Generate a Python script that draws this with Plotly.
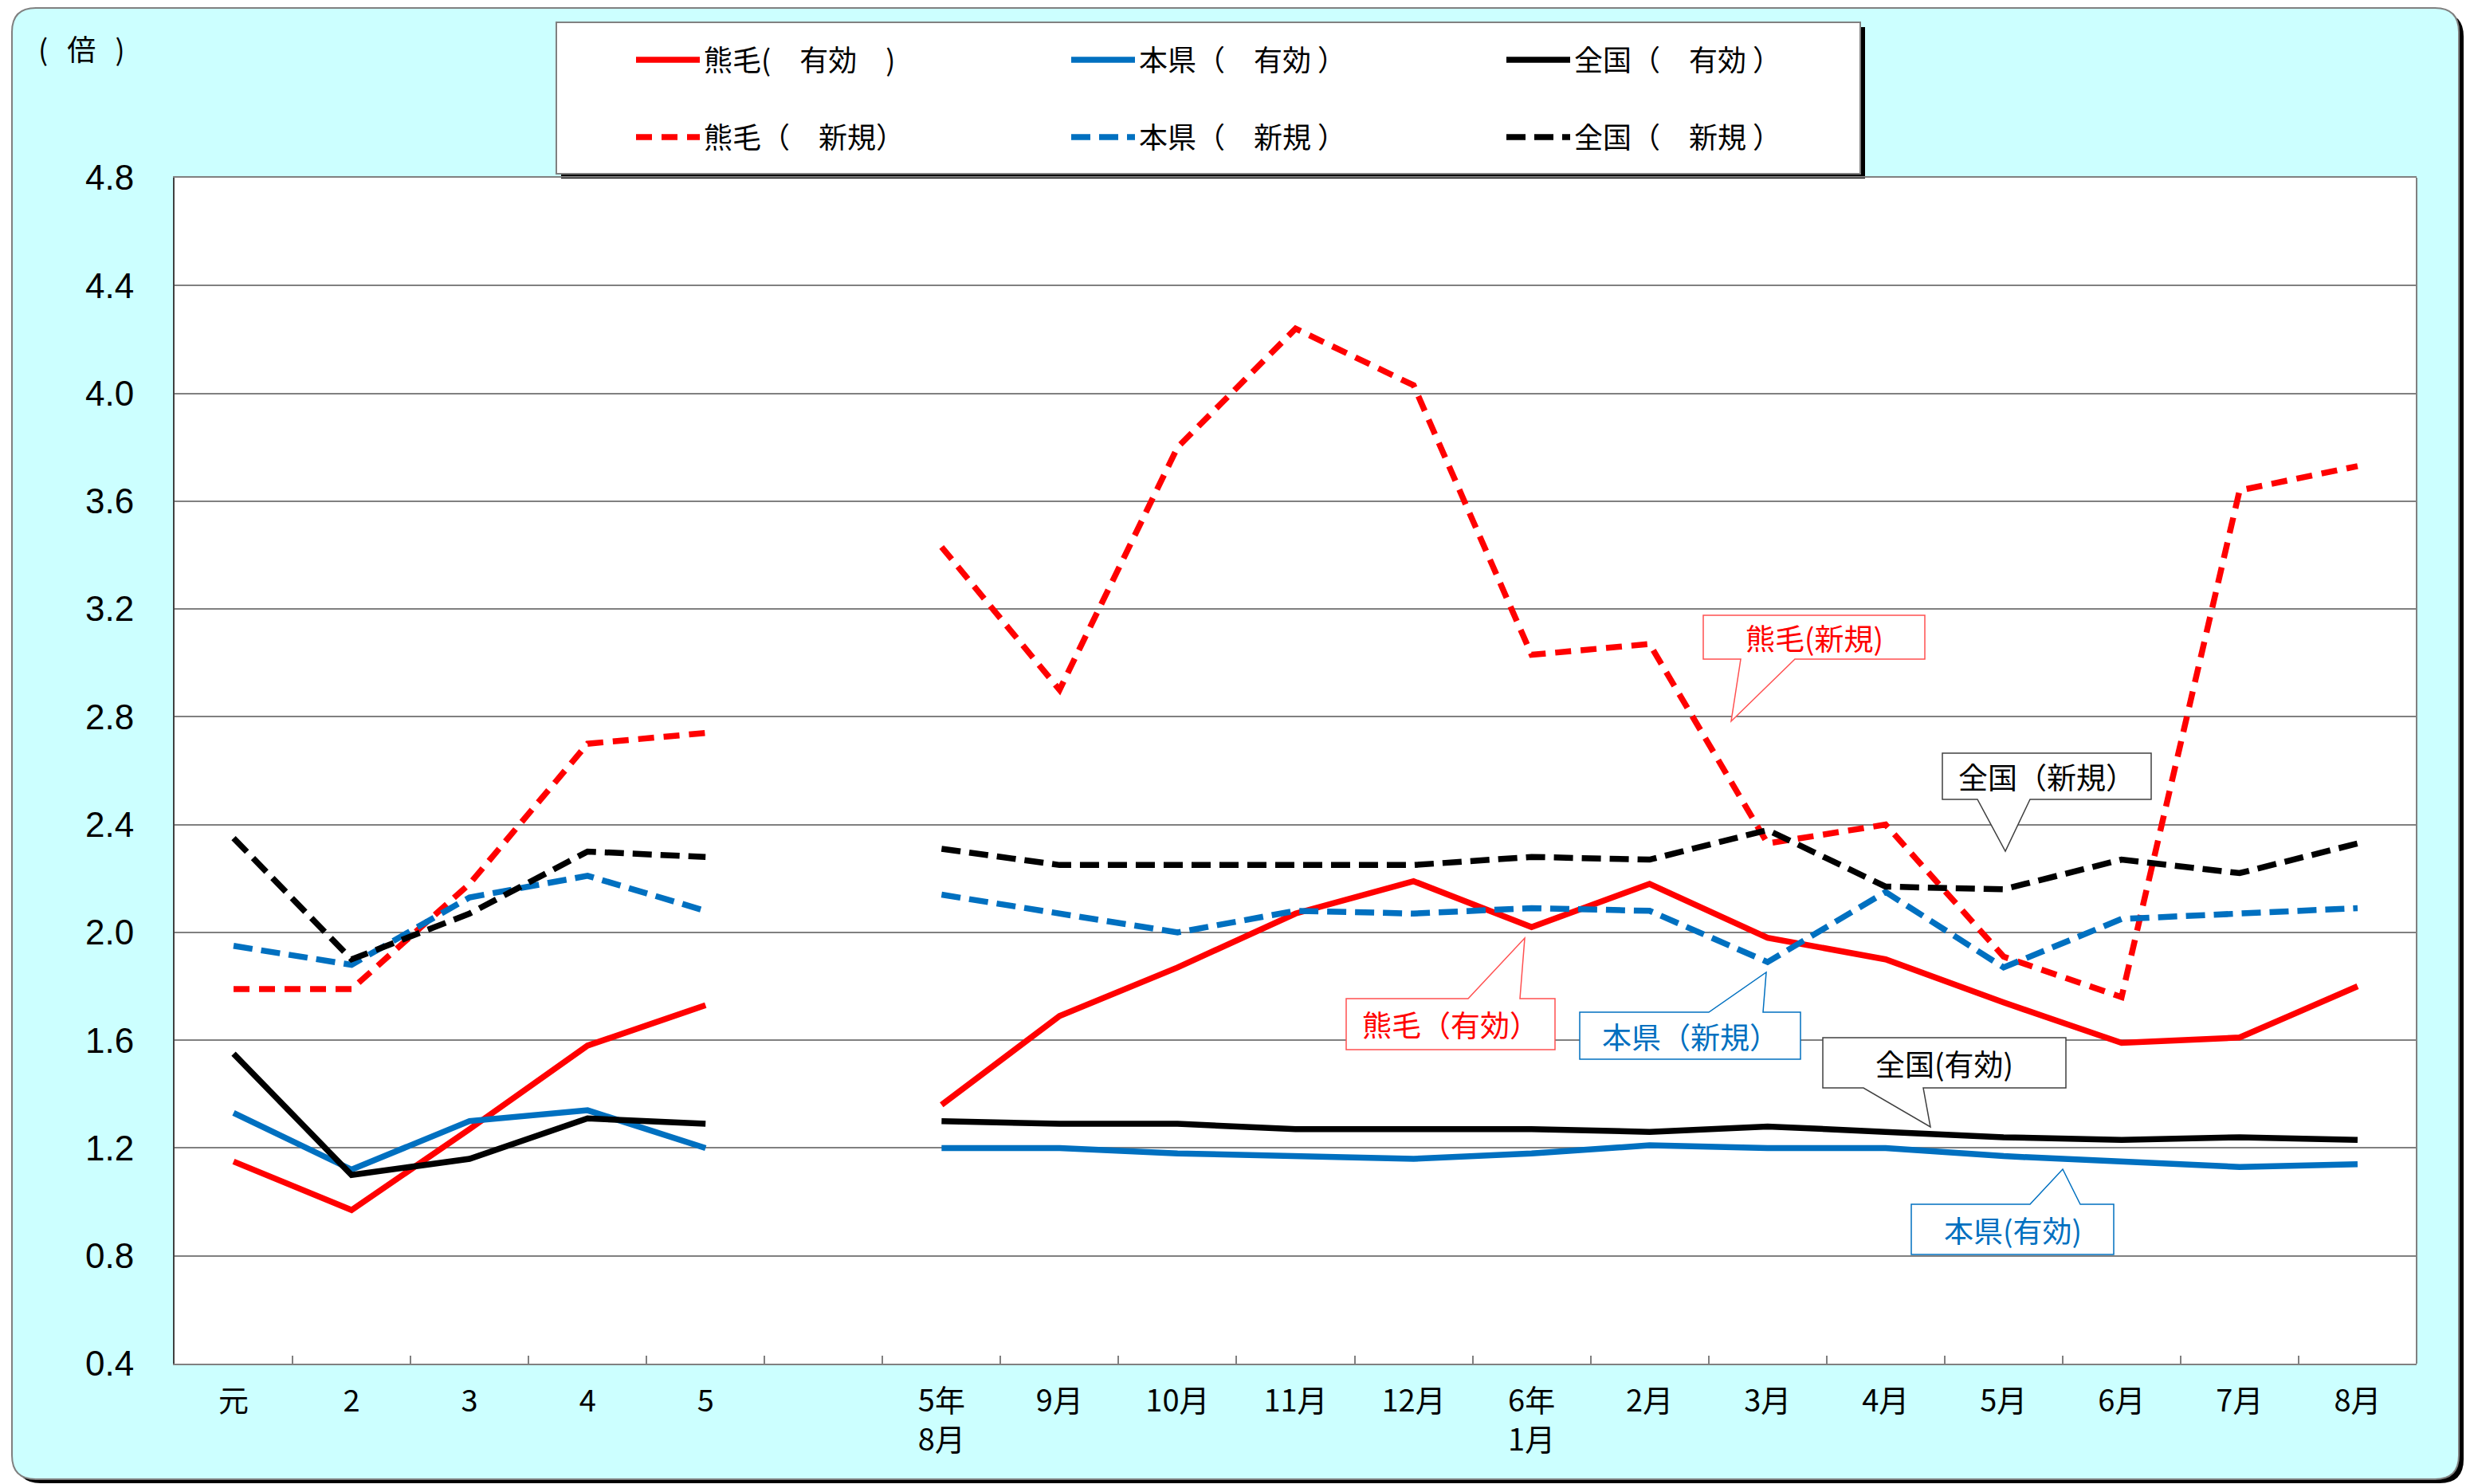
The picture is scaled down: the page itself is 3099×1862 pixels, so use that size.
import plotly.graph_objects as go

# ---------------- data ----------------
categories = ["元", "2", "3", "4", "5", " ",
              "5年<br>8月", "9月", "10月", "11月", "12月", "6年<br>1月",
              "2月", "3月", "4月", "5月", "6月", "7月", "8月"]

kumage_yuko    = [1.15, 0.97, 1.27, 1.58, 1.73, None,
                  1.36, 1.69, 1.87, 2.07, 2.19, 2.02, 2.18, 1.98, 1.90, 1.74, 1.59, 1.61, 1.80]
honken_yuko    = [1.33, 1.12, 1.30, 1.34, 1.20, None,
                  1.20, 1.20, 1.18, 1.17, 1.16, 1.18, 1.21, 1.20, 1.20, 1.17, 1.15, 1.13, 1.14]
zenkoku_yuko   = [1.55, 1.10, 1.16, 1.31, 1.29, None,
                  1.30, 1.29, 1.29, 1.27, 1.27, 1.27, 1.26, 1.28, 1.26, 1.24, 1.23, 1.24, 1.23]
kumage_shinki  = [1.79, 1.79, 2.18, 2.70, 2.74, None,
                  3.43, 2.90, 3.80, 4.24, 4.03, 3.03, 3.07, 2.33, 2.40, 1.91, 1.76, 3.64, 3.73]
honken_shinki  = [1.95, 1.88, 2.13, 2.21, 2.08, None,
                  2.14, 2.07, 2.00, 2.08, 2.07, 2.09, 2.08, 1.89, 2.15, 1.87, 2.05, 2.07, 2.09]
zenkoku_shinki = [2.35, 1.90, 2.07, 2.30, 2.28, None,
                  2.31, 2.25, 2.25, 2.25, 2.25, 2.28, 2.27, 2.38, 2.17, 2.16, 2.27, 2.22, 2.33]

legend_names = ["熊毛(　有効　)", "本県（　有効 ）", "全国（　有効 ）",
                "熊毛（　新規）", "本県（　新規 ）", "全国（　新規 ）"]

y_ticks = [0.4, 0.8, 1.2, 1.6, 2.0, 2.4, 2.8, 3.2, 3.6, 4.0, 4.4, 4.8]

RED, BLUE, BLACK = "#FF0000", "#0070C0", "#000000"
CJK = "Noto Sans CJK JP, Noto Sans, sans-serif"
NUM = "Liberation Sans Narrow, Liberation Sans, Arial, sans-serif"

# ---------------- geometry (pixels) ----------------
W, H = 3099, 1862
PL, PR, PT, PB = 219, 3032, 223, 1711


def px(x):
    return (x - PL) / (PR - PL)


def py(y):
    return (PB - y) / (PB - PT)


def rect_path(x0, y0, x1, y1):
    return (f"M{px(x0)},{py(y0)} L{px(x1)},{py(y0)} L{px(x1)},{py(y1)} "
            f"L{px(x0)},{py(y1)} Z")


def round_rect_path(x0, y0, x1, y1, r):
    pts = [
        ("M", x0 + r, y0), ("L", x1 - r, y0), ("Q", x1, y0, x1, y0 + r),
        ("L", x1, y1 - r), ("Q", x1, y1, x1 - r, y1), ("L", x0 + r, y1),
        ("Q", x0, y1, x0, y1 - r), ("L", x0, y0 + r), ("Q", x0, y0, x0 + r, y0),
    ]
    s = ""
    for p in pts:
        if p[0] == "Q":
            s += f"Q{px(p[1])},{py(p[2])} {px(p[3])},{py(p[4])} "
        else:
            s += f"{p[0]}{px(p[1])},{py(p[2])} "
    return s + "Z"


def callout_path(x0, y0, x1, y1, bx0, bx1, tx, ty, side):
    if side == "bottom":
        pts = [(x0, y0), (x1, y0), (x1, y1), (bx1, y1), (tx, ty), (bx0, y1), (x0, y1)]
    else:
        pts = [(x0, y0), (bx0, y0), (tx, ty), (bx1, y0), (x1, y0), (x1, y1), (x0, y1)]
    s = "M" + " L".join(f"{px(a)},{py(b)}" for a, b in pts)
    return s + " Z"


fig = go.Figure()

series = [
    (kumage_yuko, RED, "solid", "legend"),
    (honken_yuko, BLUE, "solid", "legend"),
    (zenkoku_yuko, BLACK, "solid", "legend"),
    (kumage_shinki, RED, "20px,12px", "legend2"),
    (honken_shinki, BLUE, "24px,11px", "legend2"),
    (zenkoku_shinki, BLACK, "24px,11px", "legend2"),
]
for (vals, col, dash, lg), name in zip(series, legend_names):
    fig.add_trace(go.Scatter(
        x=categories, y=vals, mode="lines", name=name,
        line=dict(color=col, width=7.5, dash=dash),
        connectgaps=False, legend=lg, hoverinfo="x+y+name",
    ))

shapes = []
# outer panel (shadow + cyan rounded rectangle)
shapes.append(dict(type="path", xref="paper", yref="paper", layer="below",
                   path=round_rect_path(21, 16, 3091, 1861, 30),
                   fillcolor="black", line=dict(width=0)))
shapes.append(dict(type="path", xref="paper", yref="paper", layer="below",
                   path=round_rect_path(15, 10, 3085, 1856, 30),
                   fillcolor="#CCFFFF", line=dict(color="#808080", width=2)))
# plot area white
shapes.append(dict(type="path", xref="paper", yref="paper", layer="below",
                   path=rect_path(PL, PT, PR, PB),
                   fillcolor="white", line=dict(width=0)))
# legend box with shadow
shapes.append(dict(type="path", xref="paper", yref="paper", layer="below",
                   path=rect_path(704, 34, 2340, 224),
                   fillcolor="black", line=dict(width=0)))
shapes.append(dict(type="path", xref="paper", yref="paper", layer="below",
                   path=rect_path(698, 28, 2334, 218),
                   fillcolor="white", line=dict(color="#808080", width=2)))
# right border of plot area
shapes.append(dict(type="line", xref="paper", yref="paper", layer="above",
                   x0=1, x1=1, y0=0, y1=1, line=dict(color="#808080", width=2)))

callouts = [
    # text, colour, border, box, pointer base, tip, side
    ("熊毛(新規)", RED, "#FF5050", (2137, 772, 2415, 827), (2184, 2252), (2172, 905), "bottom"),
    ("全国（新規）", BLACK, "#404040", (2437, 945, 2699, 1003), (2481, 2547), (2516, 1068), "bottom"),
    ("熊毛（有効）", RED, "#FF5050", (1689, 1253, 1951, 1317), (1842, 1907), (1913, 1177), "top"),
    ("本県（新規）", BLUE, BLUE, (1982, 1270, 2259, 1329), (2144, 2212), (2216, 1220), "top"),
    ("全国(有効)", BLACK, "#404040", (2287, 1302, 2592, 1365), (2338, 2413), (2422, 1414), "bottom"),
    ("本県(有効)", BLUE, BLUE, (2398, 1511, 2652, 1574), (2547, 2610), (2588, 1467), "top"),
]
annotations = []
for text, tcol, bcol, (x0, y0, x1, y1), (b0, b1), (tx, ty), side in callouts:
    shapes.append(dict(type="path", xref="paper", yref="paper", layer="above",
                       path=callout_path(x0, y0, x1, y1, b0, b1, tx, ty, side),
                       fillcolor="white", line=dict(color=bcol, width=1.5)))
    annotations.append(dict(xref="paper", yref="paper", x=px((x0 + x1) / 2),
                            y=py((y0 + y1) / 2), text=text, showarrow=False,
                            xanchor="center", yanchor="middle",
                            font=dict(family=CJK, size=37, color=tcol)))

annotations.append(dict(xref="paper", yref="paper", x=px(46), y=py(60),
                        text="(   倍   )", showarrow=False, xanchor="left",
                        yanchor="middle", font=dict(family=CJK, size=36, color="black")))

legend_common = dict(orientation="h", xref="paper", yref="paper", xanchor="left",
                     yanchor="middle", bgcolor="rgba(0,0,0,0)", borderwidth=0,
                     font=dict(family=CJK, size=36, color="black"),
                     itemwidth=80, entrywidth=451, entrywidthmode="pixels",
                     traceorder="normal", itemclick=False, itemdoubleclick=False)

fig.update_layout(
    template="none",
    width=W, height=H,
    margin=dict(l=PL, r=W - PR, t=PT, b=H - PB, pad=0),
    paper_bgcolor="white", plot_bgcolor="white",
    showlegend=True,
    legend=dict(legend_common, x=px(793), y=py(75)),
    legend2=dict(legend_common, x=px(793), y=py(172)),
    shapes=shapes, annotations=annotations,
    xaxis=dict(type="category", categoryorder="array", categoryarray=categories,
               range=[-0.5, len(categories) - 0.5], tickson="boundaries",
               ticks="inside", ticklen=10, tickwidth=2, tickcolor="#808080",
               showgrid=False, showline=True, linecolor="#808080", linewidth=2,
               mirror=True, zeroline=False, automargin=False,
               ticklabelstandoff=12,
               tickfont=dict(family=CJK, size=38, color="black")),
    yaxis=dict(range=[0.4, 4.8], tickvals=y_ticks, tickformat=".1f",
               showgrid=True, gridcolor="#808080", gridwidth=2,
               showline=True, linecolor="#404040", linewidth=2, mirror=False,
               zeroline=False, ticks="", automargin=False,
               ticklabelstandoff=40,
               tickfont=dict(family=NUM, size=44, color="black")),
)

fig.write_html("out.html", config={"displayModeBar": False},
               post_script="document.body.style.margin='0px';")
